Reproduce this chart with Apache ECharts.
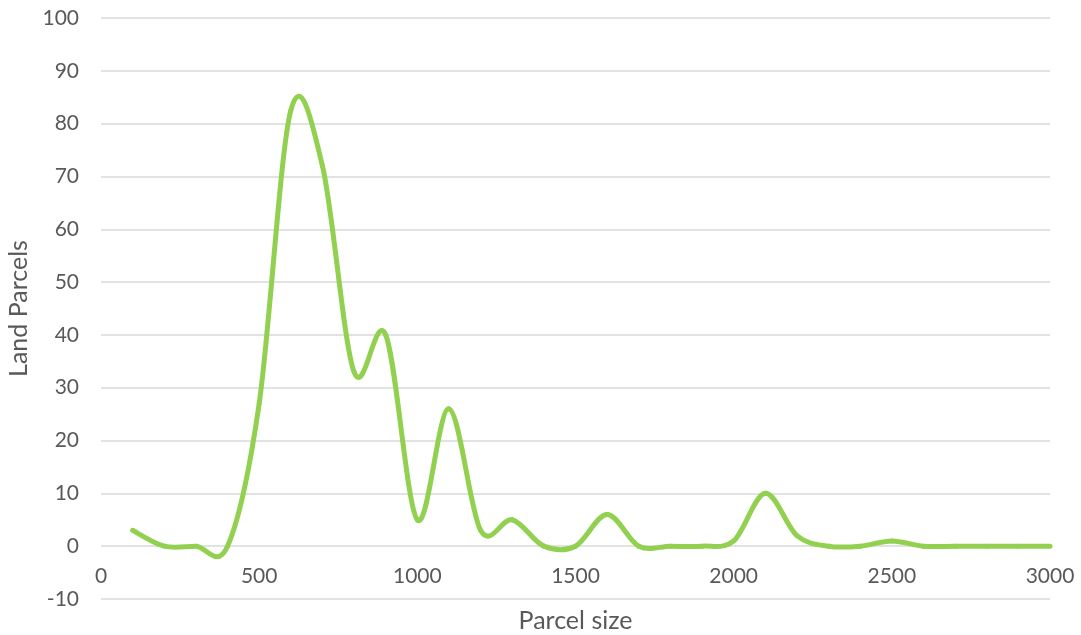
<!DOCTYPE html>
<html>
<head>
<meta charset="utf-8">
<script src="https://cdn.jsdelivr.net/npm/echarts@6/dist/echarts.min.js"></script>
<style>
html,body{margin:0;padding:0;background:#fff;}
#chart{width:1081px;height:635px;}
</style>
</head>
<body>
<div id="chart"></div>
<script>
const parcelSizes = [100,200,300,400,500,600,700,800,900,1000,1100,1200,1300,1400,1500,1600,1700,1800,1900,2000,2100,2200,2300,2400,2500,2600,2700,2800,2900,3000];
const landParcels = [3,0,0,0,27,82.5,72,33,40,5,26,3,5,0,0,6,0,0,0,1,10,2,0,0,1,0,0,0,0,0];
const xTicks = {min:0, max:3000, interval:500};
const yTicks = {min:-10, max:100, interval:10};

const chart = echarts.init(document.getElementById('chart'), null, {renderer:'canvas'});
const font = "Lato, 'Open Sans', sans-serif";
const lineColor = '#92d050';

function renderSmooth(params, api) {
  if (params.dataIndex !== 0) return null;
  const pts = parcelSizes.map((x, i) => api.coord([x, landParcels[i]]));
  const n = pts.length;
  const children = [];
  for (let i = 0; i < n - 1; i++) {
    const p0 = pts[Math.max(i - 1, 0)], p1 = pts[i], p2 = pts[i + 1], p3 = pts[Math.min(i + 2, n - 1)];
    children.push({
      type: 'bezierCurve',
      shape: {
        x1: p1[0], y1: p1[1],
        cpx1: p1[0] + (p2[0] - p0[0]) / 6, cpy1: p1[1] + (p2[1] - p0[1]) / 6,
        cpx2: p2[0] - (p3[0] - p1[0]) / 6, cpy2: p2[1] - (p3[1] - p1[1]) / 6,
        x2: p2[0], y2: p2[1]
      },
      style: {fill: null, stroke: lineColor, lineWidth: 5, lineCap: 'round', lineJoin: 'round'}
    });
  }
  return {type: 'group', children};
}

chart.setOption({
  animation:false,
  backgroundColor:'#ffffff',
  grid:{left:101, right:31, top:18, bottom:36, containLabel:false, outerBoundsMode:'none'},
  xAxis:{
    type:'value', min:xTicks.min, max:xTicks.max, interval:xTicks.interval,
    name:'Parcel size', nameLocation:'middle', nameGap:9,
    nameTextStyle:{fontFamily:font, fontSize:25, color:'#595959'},
    axisLine:{show:false, onZero:false},
    axisTick:{show:false},
    axisLabel:{margin:-33, fontFamily:font, fontSize:21, color:'#595959', formatter:(v)=>String(v)},
    splitLine:{show:false}
  },
  yAxis:{
    type:'value', min:yTicks.min, max:yTicks.max, interval:yTicks.interval,
    name:'Land Parcels', nameLocation:'middle', nameGap:68,
    nameTextStyle:{fontFamily:font, fontSize:25, color:'#595959'},
    axisLine:{show:false}, axisTick:{show:false},
    axisLabel:{margin:22, fontFamily:font, fontSize:21, color:'#595959', formatter:(v)=>String(v)},
    splitLine:{show:true, lineStyle:{color:'#d9d9d9', width:1.5}}
  },
  series:[{
    type:'custom',
    renderItem: renderSmooth,
    data: parcelSizes.map((x,i)=>[x, landParcels[i]]),
    encode:{x:0, y:1},
    silent:true
  }]
});
</script>
</body>
</html>
